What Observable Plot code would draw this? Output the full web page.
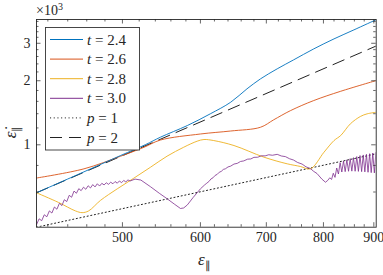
<!DOCTYPE html>
<html><head><meta charset="utf-8">
<script src="https://cdn.jsdelivr.net/npm/d3@7"></script>
<script src="https://cdn.jsdelivr.net/npm/@observablehq/plot@0.6"></script>
<style>
html,body{margin:0;padding:0;background:#fff;}
#wrap svg text, #wrap svg tspan{font-family:"Liberation Serif",serif;}
</style></head><body><div id="wrap"></div>
<script>
// ---- data (y in units of 10^3) ----
const legendLabels = [["t","2.4"],["t","2.6"],["t","2.8"],["t","3.0"],["p","1"],["p","2"]];
const xTickLabels = [500,600,700,800,900];
const yTickLabels = [1,2,3];
const xMinorTicks = [420,440,460,480,520,540,560,580,620,640,660,680,720,740,760,780,820,840,860,880];
const yMinorTicks = [0.6,0.8,1.2,1.4,1.6,1.8,2.2,2.4,2.6,2.8,3.2,3.4,3.6,3.8];

const t24 = [[409,0.595],[453,0.733],[498,0.891],[528,1.003],[546.5,1.086],[582,1.232],[614,1.398],[644,1.585],[669,1.832],[690.5,2.041],[718,2.275],[746,2.506],[782,2.823],[820,3.146],[859,3.467],[904,3.863]];
const t26 = [[409,0.698],[457,0.771],[498,0.884],[526,0.974],[546.5,1.053],[600,1.124],[644,1.161],[690.5,1.209],[712,1.310],[741,1.449],[782,1.614],[833,1.785],[905,2.004]];
const t28 = [[409,0.595],[430.6,0.536],[448,0.489],[455,0.480],[462,0.489],[475,0.548],[494,0.621],[513.5,0.697],[534,0.785],[555,0.884],[577,0.974],[595.5,1.040],[605,1.059],[619,1.047],[649,0.992],[696,0.875],[735,0.814],[758,0.791],[776,0.771],[801,0.923],[820,1.047],[833,1.106],[852,1.255],[872,1.358],[886,1.398],[905,1.422]];
const t30 = [[409,0.421],[411.5,0.449],[414,0.440],[416.5,0.469],[419,0.459],[421.5,0.489],[424,0.478],[426.5,0.510],[429,0.498],[431.5,0.531],[434,0.518],[436.5,0.552],[439,0.541],[441.5,0.579],[444,0.567],[446.5,0.606],[449,0.592],[451.5,0.622],[454,0.609],[456.5,0.632],[459,0.618],[461.5,0.642],[464,0.627],[466.5,0.650],[469,0.634],[471.5,0.656],[474,0.640],[476.5,0.659],[479,0.648],[481.5,0.663],[484,0.652],[486.5,0.667],[489,0.656],[491.5,0.672],[494,0.660],[496.5,0.676],[499,0.664],[501.5,0.680],[504,0.669],[506.5,0.684],[509,0.676],
 [515,0.690],[522,0.683],[534,0.635],[545,0.592],[555,0.558],[565,0.525],[572.7,0.502],[577,0.505],[582,0.522],[590,0.566],[600,0.621],[606,0.648],[609,0.660],[612,0.672],[615,0.691],[618,0.700],[621,0.718],[624,0.726],[627,0.743],[630,0.750],[633,0.766],[636,0.771],[640,0.787],[644,0.794],[649,0.812],[654,0.818],[659,0.835],[664,0.840],[670,0.856],[675,0.858],[680,0.873],[686,0.874],[692,0.888],[698,0.887],[704,0.898],[710,0.893],[718,0.902],[725,0.886],[732,0.880],[739,0.860],[746,0.848],[753,0.826],[761,0.812],[768,0.788],[776,0.773],[782,0.750],[788,0.733],[797,0.690],[803.8,0.667],[808,0.680],
 [812,0.700],[815.3,0.687],[818.6,0.735],[821.9,0.703],[825.2,0.778],[828.5,0.729],[831.8,0.824],[835.1,0.745],[838.4,0.839],[841.7,0.748],[845,0.850],[848.3,0.751],[851.6,0.861],[854.9,0.752],[858.2,0.870],[861.5,0.751],[864.8,0.880],[868.1,0.750],[871.4,0.890],[874.7,0.748],[878,0.896],[881.3,0.746],[884.6,0.902],[887.9,0.743],[891.2,0.908],[894.5,0.740],[897.8,0.915],[901.1,0.738],[904.4,0.920]];
const p1 = [[409,0.41],[905,0.907]];
const p2 = [[409,0.595],[905,2.913]];

const colors = ["#0072BD","#D95319","#EDB120","#7E2F8E"];
const W = 383, H = 275, mT = 19, mB = 48.3, mL = 36, mR = 7.3;
const innerH = H - mT - mB, innerW = W - mL - mR;
const axisColor = "#262626";
const font = "Liberation Serif";

const lineOpts = (c, extra={}) => ({x: d => d[0], y: d => d[1], stroke: c, strokeWidth: 0.9, clip: true, ...extra});

const chart = Plot.plot({
  width: W, height: H,
  marginTop: mT, marginBottom: mB, marginLeft: mL, marginRight: mR,
  x: {type: "log", domain: [409, 905], axis: null},
  y: {type: "log", domain: [0.41, 3.88], axis: null},
  marks: [
    Plot.line(p1, lineOpts("#222", {strokeDasharray: "1.1,2.6", strokeWidth: 1})),
    Plot.line(p2, lineOpts("#222", {strokeDasharray: "12,7", strokeWidth: 1})),
    Plot.line(t26, lineOpts(colors[1], {curve: "catmull-rom"})),
    Plot.line(t24, lineOpts(colors[0], {curve: "catmull-rom"})),
    Plot.line(t28, lineOpts(colors[2], {curve: "catmull-rom"})),
    Plot.line(t30, lineOpts(colors[3], {strokeWidth: 0.8})),
    // inward ticks on all four sides
    Plot.tickX(xMinorTicks, {x: d => d, insetTop: innerH - 2.5, stroke: axisColor, strokeWidth: 0.7}),
    Plot.tickX(xMinorTicks, {x: d => d, insetBottom: innerH - 2.5, stroke: axisColor, strokeWidth: 0.7}),
    Plot.tickX(xTickLabels, {x: d => d, insetTop: innerH - 4.5, stroke: axisColor, strokeWidth: 0.7}),
    Plot.tickX(xTickLabels, {x: d => d, insetBottom: innerH - 4.5, stroke: axisColor, strokeWidth: 0.7}),
    Plot.tickY(yMinorTicks, {y: d => d, insetRight: innerW - 2.5, stroke: axisColor, strokeWidth: 0.7}),
    Plot.tickY(yMinorTicks, {y: d => d, insetLeft: innerW - 2.5, stroke: axisColor, strokeWidth: 0.7}),
    Plot.tickY(yTickLabels, {y: d => d, insetRight: innerW - 4.5, stroke: axisColor, strokeWidth: 0.7}),
    Plot.tickY(yTickLabels, {y: d => d, insetLeft: innerW - 4.5, stroke: axisColor, strokeWidth: 0.7}),
    // tick labels
    Plot.text(xTickLabels, {x: d => d, text: d => String(d), frameAnchor: "bottom", dy: 15, fontSize: 14, fill: axisColor}),
    Plot.text(yTickLabels, {y: d => d, text: d => String(d), frameAnchor: "left", dx: -6, textAnchor: "end", fontSize: 14, fill: axisColor}),
    Plot.frame({stroke: axisColor, strokeWidth: 0.9})
  ]
});

document.getElementById("wrap").appendChild(chart);
const svg = d3.select(chart);

// multiplier
const mult = svg.append("text").attr("x", 36).attr("y", 15).attr("font-size", 14).attr("text-anchor", "start").attr("fill", axisColor);
mult.append("tspan").text("×10");
mult.append("tspan").attr("font-size", 10).attr("dy", -5).text("3");

// axis labels
const xl = svg.append("text").attr("x", 198).attr("y", 265).attr("font-size", 17).attr("text-anchor", "start").attr("fill", axisColor);
xl.append("tspan").attr("font-style", "italic").text("ε");
xl.append("tspan").attr("font-size", 11).attr("dy", 4).text("∥");

const yl = svg.append("text").attr("transform", "translate(16,132) rotate(-90)").attr("font-size", 17).attr("text-anchor", "middle").attr("fill", axisColor);
yl.append("tspan").attr("font-style", "italic").text("ε\u0307");
yl.append("tspan").attr("font-size", 11).attr("dy", 4).text("∥");

// legend
const lg = svg.append("g");
lg.append("rect").attr("x", 45.5).attr("y", 27.5).attr("width", 94).attr("height", 122.5)
  .attr("fill", "#fff").attr("stroke", "#333").attr("stroke-width", 0.9);
const styles = [
  {c: colors[0]}, {c: colors[1]}, {c: colors[2]}, {c: colors[3]},
  {c: "#222", dash: "1.1,2.6"}, {c: "#222", dash: "12,7"}
];
legendLabels.forEach((lab, i) => {
  const y = 39.5 + i * 19.6;
  lg.append("line").attr("x1", 50).attr("x2", 83).attr("y1", y).attr("y2", y)
    .attr("stroke", styles[i].c).attr("stroke-width", 1)
    .attr("stroke-dasharray", styles[i].dash || null);
  const t = lg.append("text").attr("x", 87).attr("y", y + 5).attr("font-size", 15).attr("text-anchor", "start").attr("fill", axisColor);
  t.append("tspan").attr("font-style", "italic").text(lab[0]);
  t.append("tspan").text(" = " + lab[1]);
});
</script>
</body></html>
